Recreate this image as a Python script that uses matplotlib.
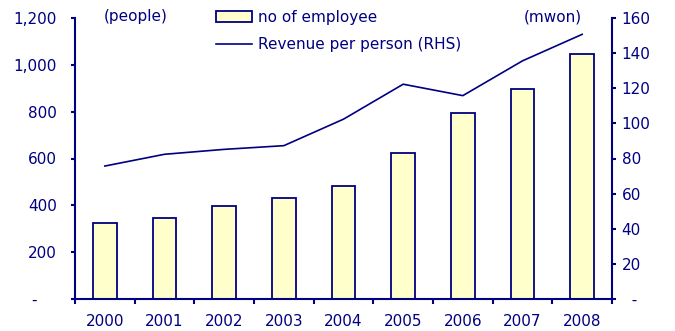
import matplotlib.pyplot as plt
import numpy as np

years = ["2000", "2001", "2002", "2003", "2004", "2005", "2006", "2007", "2008"]
employees = [325, 344, 398, 430, 484, 623, 793, 897, 1045]
revenue_per_person = [75.7, 82.4, 85.2, 87.3, 102.4, 122.3, 115.8, 135.6, 150.7]

navy = "#000080"
plt.rcParams["font.family"] = "DejaVu Sans"
plt.rcParams["font.size"] = 11

fig = plt.figure(figsize=(6.75, 3.31), dpi=100)
ax = fig.add_axes([75 / 675, 32 / 331, 537 / 675, 281 / 331])
ax2 = ax.twinx()

x = np.arange(len(years))
bars = ax.bar(x, employees, width=0.4, color="#ffffcc", edgecolor=navy,
              linewidth=1.3, label="no of employee")
line, = ax2.plot(x, revenue_per_person, color=navy, linewidth=1.2,
                 label="Revenue per person (RHS)")

ax.set_xlim(-0.5, len(years) - 0.5)
ax.set_ylim(0, 1200)
ax2.set_ylim(0, 160)

ax.set_yticks(np.arange(0, 1201, 200))
ax.set_yticklabels(["-    "] + [f"{v:,}" for v in range(200, 1201, 200)])
ax2.set_yticks(np.arange(0, 161, 20))
ax2.set_yticklabels(["  -"] + [str(v) for v in range(20, 161, 20)])

ax.set_xticks(x)
ax.set_xticklabels(years)
ax.set_xticks(np.arange(-0.5, len(years), 1), minor=True)
ax.tick_params(axis="x", which="major", length=0, pad=11, colors=navy)
ax.tick_params(axis="x", which="minor", length=3.5, width=1.5, color=navy)
ax.tick_params(axis="y", length=3, width=1.5, color=navy, labelcolor=navy, pad=10)
ax2.tick_params(axis="y", length=3, width=1.5, color=navy, labelcolor=navy, pad=4)

for a in (ax, ax2):
    a.spines["top"].set_visible(False)
    for s in ("left", "right", "bottom"):
        a.spines[s].set_color(navy)
        a.spines[s].set_linewidth(1.5)
ax.spines["right"].set_visible(False)
ax2.spines["left"].set_visible(False)
ax2.spines["bottom"].set_visible(False)

ax.text(0.054, 1.0036, "(people)", transform=ax.transAxes, color=navy,
        ha="left", va="center")
ax.text(0.944, 1.0036, "(mwon)", transform=ax.transAxes, color=navy,
        ha="right", va="center")

leg = ax2.legend([bars, line], ["no of employee", "Revenue per person (RHS)"],
                 loc="upper left", bbox_to_anchor=(0.263, 1.028), frameon=False,
                 handlelength=2.35, handletextpad=0.4, labelspacing=0.8,
                 borderpad=0, borderaxespad=0)
for t in leg.get_texts():
    t.set_color(navy)

fig.savefig("out.png", dpi=100)
